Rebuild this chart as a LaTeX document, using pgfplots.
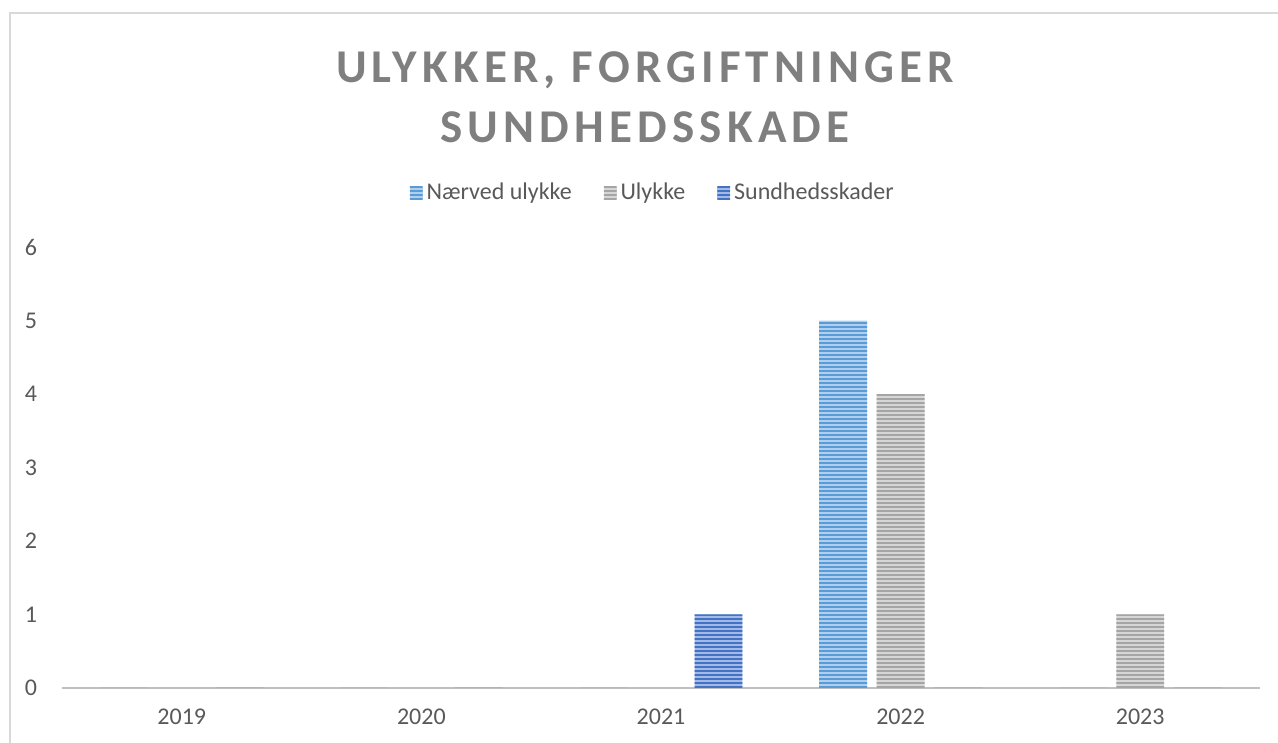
\documentclass[border=0pt]{standalone}
\usepackage{pgfplots}
\pgfplotsset{compat=1.18}
\usepackage{fontspec}
\setmainfont{Carlito}
\usetikzlibrary{patterns.meta}
\definecolor{txt}{HTML}{595959}
\definecolor{ttl}{HTML}{7F7F7F}
\definecolor{frame}{HTML}{D9D9D9}
\definecolor{axisgray}{HTML}{BFBFBF}
\definecolor{nbg}{HTML}{AFCFEE}
\definecolor{nfg}{HTML}{5B9BD5}
\definecolor{ubg}{HTML}{D6D6D6}
\definecolor{ufg}{HTML}{A5A5A5}
\definecolor{sbg}{HTML}{A4BAE6}
\definecolor{sfg}{HTML}{4472C4}
\begin{document}
\begin{tikzpicture}
\path[use as bounding box] (-31pt,-27.5pt) rectangle (608pt,344pt);
\draw[frame,line width=1pt] (-26pt,-27.5pt) -- (-26pt,337.5pt) -- (608pt,337.5pt);
\begin{axis}[
  at={(0pt,0pt)},anchor=south west,
  scale only axis,width=599pt,height=220.5pt,
  xmin=-0.5,xmax=4.5,ymin=0,ymax=6,
  xtick={0,1,2,3,4},xticklabels={2019,2020,2021,2022,2023},
  ytick={0,1,2,3,4,5,6},
  /pgf/number format/assume math mode=true,
  tick label style={font=\fontsize{12}{14}\selectfont,text=txt},
  xticklabel style={yshift=-7pt},
  yticklabel style={xshift=-9pt},
  major tick length=0pt,
  axis x line*=bottom,axis y line*=left,
  x axis line style={axisgray,line width=1.4pt,-},
  y axis line style={draw=none},
  ybar,bar width=0.2,
  legend style={at={(0.494,1.1224)},anchor=center,draw=none,fill=none,
    font=\fontsize{12}{14}\selectfont,text=txt,legend columns=3,
    /tikz/every even column/.append style={column sep=14pt}},
  legend image code/.code={\path[#1] (1pt,-3.2pt) rectangle (7.4pt,3.2pt);},
  clip=false,
]
\addplot[bar shift=-0.24,draw=none,fill=nbg,postaction={pattern={Lines[angle=0,distance=2pt,line width=0.9pt]},pattern color=nfg}]
  coordinates {(0,0) (1,0) (2,0) (3,5) (4,0)};
\addlegendentry{Nærved ulykke}
\addplot[bar shift=0,draw=none,fill=ubg,postaction={pattern={Lines[angle=0,distance=2pt,line width=0.9pt]},pattern color=ufg}]
  coordinates {(0,0) (1,0) (2,0) (3,4) (4,1)};
\addlegendentry{Ulykke}
\addplot[bar shift=0.24,draw=none,fill=sbg,postaction={pattern={Lines[angle=0,distance=2pt,line width=0.9pt]},pattern color=sfg}]
  coordinates {(0,0) (1,0) (2,1) (3,0) (4,0)};
\addlegendentry{Sundhedsskader}
\end{axis}
\node[text=ttl,font=\fontsize{23.5}{28}\selectfont\bfseries\addfontfeatures{LetterSpace=11}] at (291.5pt,309pt) {ULYKKER, FORGIFTNINGER};
\node[text=ttl,font=\fontsize{23.5}{28}\selectfont\bfseries\addfontfeatures{LetterSpace=11}] at (291.5pt,280.5pt) {SUNDHEDSSKADE};
\end{tikzpicture}
\end{document}
